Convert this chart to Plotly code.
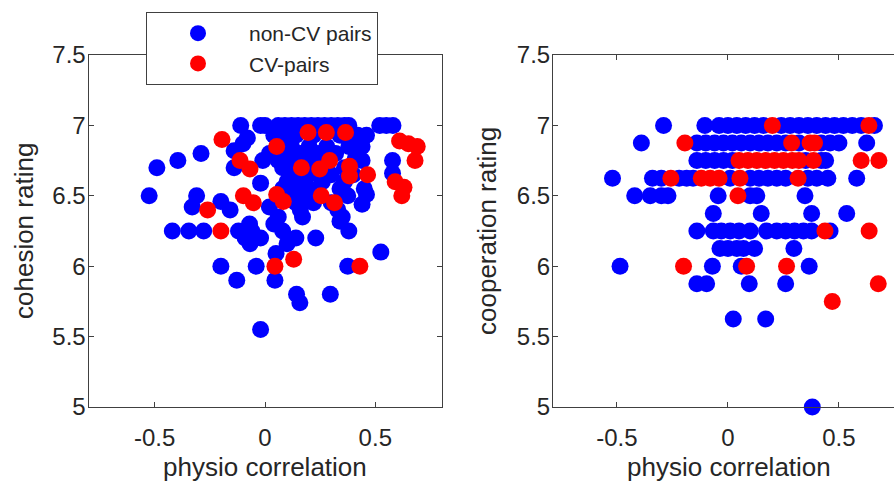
import plotly.graph_objects as go

# ---------------- data ----------------
# Left panel: cohesion rating vs physio correlation
coh_noncv_x = [-0.11, -0.02, 0.00, 0.06, 0.09, 0.12, 0.15, 0.18, 0.21, 0.24, 0.27, 0.30, 0.33, 0.36, 0.38, 0.52, 0.55, 0.58,
               0.10, 0.14, 0.22, 0.34, 0.42, 0.46, -0.08, 0.04,
               -0.10, 0.12, 0.20, 0.28, 0.38, 0.44,
               -0.29, -0.14, 0.02, 0.08, 0.16, 0.24, 0.32,
               -0.395, -0.01, 0.10, 0.18, 0.41, 0.44, 0.578, 0.06, 0.26,
               -0.49, -0.14, 0.08, 0.14, 0.36, 0.22,
               0.12, 0.20, 0.30, 0.40, 0.578,
               -0.02, 0.10, 0.16, 0.26, 0.36,
               0.08, 0.14, 0.20, 0.34, 0.45,
               -0.525, -0.31, 0.12, 0.18, 0.375, 0.46,
               -0.20, 0.14, 0.22, 0.30, 0.44,
               -0.33, -0.158, 0.02, 0.16, 0.33,
               0.17, 0.35, 0.06,
               -0.07, 0.04, 0.34,
               -0.42, -0.345, -0.278, -0.12, -0.06, 0.08, 0.38,
               -0.02, 0.14, 0.23, -0.09,
               -0.068, 0.10,
               0.525, 0.05,
               -0.20, -0.04, 0.375,
               -0.128, 0.045,
               0.143, 0.296, 0.158,
               -0.02]
coh_noncv_y = [7.0, 7.0, 7.0, 7.0, 7.0, 7.0, 7.0, 7.0, 7.0, 7.0, 7.0, 7.0, 7.0, 7.0, 7.0, 7.0, 7.0, 7.0,
               6.93, 6.93, 6.93, 6.93, 6.93, 6.93, 6.91, 6.93,
               6.87, 6.85, 6.85, 6.85, 6.85, 6.85,
               6.80, 6.82, 6.80, 6.80, 6.80, 6.80, 6.80,
               6.75, 6.75, 6.75, 6.75, 6.77, 6.75, 6.75, 6.75, 6.75,
               6.70, 6.70, 6.70, 6.70, 6.70, 6.70,
               6.65, 6.65, 6.65, 6.65, 6.66,
               6.59, 6.60, 6.60, 6.60, 6.60,
               6.55, 6.55, 6.55, 6.55, 6.55,
               6.50, 6.50, 6.50, 6.50, 6.50, 6.51,
               6.46, 6.45, 6.45, 6.45, 6.44,
               6.42, 6.40, 6.42, 6.40, 6.40,
               6.35, 6.35, 6.35,
               6.30, 6.30, 6.32,
               6.25, 6.25, 6.25, 6.25, 6.25, 6.25, 6.25,
               6.20, 6.20, 6.20, 6.20,
               6.16, 6.16,
               6.10, 6.09,
               6.00, 6.00, 6.00,
               5.90, 5.90,
               5.80, 5.80, 5.74,
               5.55]
coh_cv_x = [-0.195, 0.053, 0.195, 0.278, 0.365, 0.61, 0.65, 0.69, 0.68, -0.113, -0.068, -0.098, -0.053,
            0.165, 0.248, 0.293, 0.383, 0.383, 0.465, 0.59, 0.63, 0.62, 0.053, 0.083, 0.255, 0.315,
            -0.26, -0.20, 0.045, 0.13, 0.43]
coh_cv_y = [6.90, 6.85, 6.95, 6.95, 6.95, 6.89, 6.87, 6.85, 6.75, 6.75, 6.69, 6.50, 6.45,
            6.70, 6.69, 6.75, 6.71, 6.64, 6.65, 6.60, 6.56, 6.50, 6.51, 6.46, 6.50, 6.45,
            6.40, 6.25, 6.00, 6.05, 6.00]

# Right panel: cooperation rating vs physio correlation
coop_noncv_x = [-0.29, -0.104, -0.04, 0.00, 0.04, 0.08, 0.12, 0.16, 0.24, 0.28, 0.32, 0.36, 0.40, 0.44, 0.48, 0.52, 0.56, 0.60, 0.66,
                -0.39, -0.14, -0.10, -0.06, -0.02, 0.02, 0.06, 0.10, 0.14, 0.18, 0.22, 0.26, 0.32, 0.42, 0.46, 0.50, 0.625,
                -0.14, -0.10, -0.06, -0.02, 0.02, 0.35, 0.42, 0.44,
                -0.52, -0.34, -0.30, -0.22, -0.186, -0.157, 0.01, 0.10, 0.14, 0.18, 0.22, 0.26, 0.36, 0.40, 0.45, 0.58,
                -0.42, -0.35, -0.30, -0.27, -0.044, 0.10, 0.13, 0.347,
                -0.066, 0.15, 0.377, 0.535,
                -0.14, -0.066, -0.03, 0.01, 0.05, 0.10, 0.174, 0.22, 0.26, 0.30, 0.34, 0.377, 0.46,
                -0.036, 0.00, 0.04, 0.07, 0.12, 0.297,
                -0.486, -0.07, 0.06, 0.366,
                -0.14, -0.096, 0.096, 0.26,
                0.024, 0.17,
                0.38]
coop_noncv_y = [7.0] * 19 + [6.875] * 17 + [6.75] * 8 + [6.625] * 16 + [6.5] * 8 + [6.375] * 4 + \
               [6.25] * 13 + [6.125] * 6 + [6.0] * 4 + [5.875] * 4 + [5.625] * 2 + [5.0]
coop_cv_x = [0.20, 0.635,
             -0.194, 0.287, 0.37, 0.39,
             0.05, 0.09, 0.13, 0.17, 0.21, 0.25, 0.29, 0.32, 0.385, 0.60, 0.68,
             -0.257, -0.12, -0.08, -0.04, 0.054, 0.316,
             0.045,
             0.437, 0.636,
             -0.20, 0.084, 0.264,
             0.677,
             0.47]
coop_cv_y = [7.0, 7.0,
             6.875, 6.875, 6.875, 6.875,
             6.75, 6.75, 6.75, 6.75, 6.75, 6.75, 6.75, 6.75, 6.75, 6.75, 6.75,
             6.625, 6.625, 6.625, 6.625, 6.625, 6.625,
             6.5,
             6.25, 6.25,
             6.0, 6.0, 6.0,
             5.875,
             5.75]

x_tickvals = [-0.5, 0, 0.5]
x_ticktext = ["-0.5", "0", "0.5"]
y_tickvals = [5, 5.5, 6, 6.5, 7, 7.5]
y_ticktext = ["5", "5.5", "6", "6.5", "7", "7.5"]

# ---------------- styling ----------------
W, H = 894, 483
FONT = "Liberation Sans, Arial, sans-serif"
TXT = "#262626"
AX = "#404040"
BLUE = "#0000FF"
RED = "#FF0000"
MS = 17

def px_x(p):
    return p / W

def px_y(p):
    return 1 - p / H

fig = go.Figure()
fig.add_trace(go.Scatter(x=coh_noncv_x, y=coh_noncv_y, mode="markers", name="non-CV pairs",
                         marker=dict(color=BLUE, size=MS, line=dict(width=0)),
                         xaxis="x", yaxis="y", cliponaxis=False))
fig.add_trace(go.Scatter(x=coh_cv_x, y=coh_cv_y, mode="markers", name="CV-pairs",
                         marker=dict(color=RED, size=MS, line=dict(width=0)),
                         xaxis="x", yaxis="y", cliponaxis=False))
fig.add_trace(go.Scatter(x=coop_noncv_x, y=coop_noncv_y, mode="markers", name="non-CV pairs", showlegend=False,
                         marker=dict(color=BLUE, size=MS, line=dict(width=0)),
                         xaxis="x2", yaxis="y2", cliponaxis=False))
fig.add_trace(go.Scatter(x=coop_cv_x, y=coop_cv_y, mode="markers", name="CV-pairs", showlegend=False,
                         marker=dict(color=RED, size=MS, line=dict(width=0)),
                         xaxis="x2", yaxis="y2", cliponaxis=False))

ydom = [px_y(407), px_y(55)]
common_x = dict(tickmode="array", tickvals=x_tickvals, ticktext=x_ticktext, ticks="inside", ticklen=5,
                tickcolor=AX, showline=True, linecolor=AX, linewidth=1, showgrid=False, zeroline=False,
                tickfont=dict(family=FONT, size=24, color=TXT), ticklabelstandoff=9, automargin=False)
common_y = dict(tickmode="array", tickvals=y_tickvals, ticktext=y_ticktext, ticks="inside", ticklen=5,
                tickcolor=AX, showline=True, linecolor=AX, linewidth=1, showgrid=False, zeroline=False,
                tickfont=dict(family=FONT, size=24, color=TXT), ticklabelstandoff=-3, automargin=False,
                range=[5, 7.5])

fig.update_layout(
    width=W, height=H,
    margin=dict(l=0, r=0, t=0, b=0),
    paper_bgcolor="white", plot_bgcolor="white",
    xaxis=dict(common_x, domain=[px_x(88.5), px_x(441.5)], range=[-0.8, 0.8], mirror="ticks", anchor="y"),
    yaxis=dict(common_y, domain=ydom, mirror="ticks", anchor="x"),
    xaxis2=dict(common_x, domain=[px_x(553), 1.0], range=[-0.788, 0.748], mirror="ticks", anchor="y2"),
    yaxis2=dict(common_y, domain=ydom, mirror=False, anchor="x2"),
    legend=dict(x=px_x(146), y=px_y(12), xanchor="left", yanchor="top",
                bgcolor="white", bordercolor=AX, borderwidth=1,
                font=dict(family=FONT, size=21, color=TXT), itemwidth=92,
                tracegroupgap=0),
    showlegend=True,
)

title_font = dict(family=FONT, size=26, color=TXT)
fig.add_annotation(text="cohesion rating", x=px_x(24), y=px_y(231), xref="paper", yref="paper",
                   textangle=-90, showarrow=False, font=title_font, xanchor="center", yanchor="middle")
fig.add_annotation(text="cooperation rating", x=px_x(487), y=px_y(231), xref="paper", yref="paper",
                   textangle=-90, showarrow=False, font=title_font, xanchor="center", yanchor="middle")
fig.add_annotation(text="physio correlation", x=px_x(265), y=px_y(467), xref="paper", yref="paper",
                   showarrow=False, font=title_font, xanchor="center", yanchor="middle")
fig.add_annotation(text="physio correlation", x=px_x(729), y=px_y(467), xref="paper", yref="paper",
                   showarrow=False, font=title_font, xanchor="center", yanchor="middle")

fig.write_html("out.html", config={"displayModeBar": False},
               post_script="document.body.style.margin='0px';")
